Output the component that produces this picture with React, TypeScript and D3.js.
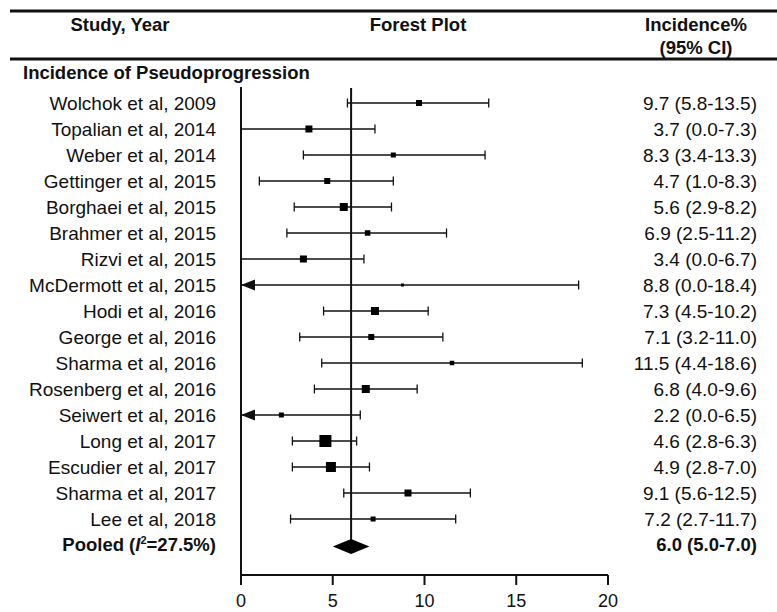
import React from 'react';
import { scaleLinear, scalePoint } from 'd3';

// study rows, top to bottom
const studies = [
  'Wolchok et al, 2009',
  'Topalian et al, 2014',
  'Weber et al, 2014',
  'Gettinger et al, 2015',
  'Borghaei et al, 2015',
  'Brahmer et al, 2015',
  'Rizvi et al, 2015',
  'McDermott et al, 2015',
  'Hodi et al, 2016',
  'George et al, 2016',
  'Sharma et al, 2016',
  'Rosenberg et al, 2016',
  'Seiwert et al, 2016',
  'Long et al, 2017',
  'Escudier et al, 2017',
  'Sharma et al, 2017',
  'Lee et al, 2018',
];
const estimates = [9.7, 3.7, 8.3, 4.7, 5.6, 6.9, 3.4, 8.8, 7.3, 7.1, 11.5, 6.8, 2.2, 4.6, 4.9, 9.1, 7.2];
const lowers = [5.8, 0.0, 3.4, 1.0, 2.9, 2.5, 0.0, 0.0, 4.5, 3.2, 4.4, 4.0, 0.0, 2.8, 2.8, 5.6, 2.7];
const uppers = [13.5, 7.3, 13.3, 8.3, 8.2, 11.2, 6.7, 18.4, 10.2, 11.0, 18.6, 9.6, 6.5, 6.3, 7.0, 12.5, 11.7];
// relative study weight (drives square size)
const weights = [6, 7, 5, 6, 8, 5.5, 7, 3, 8, 6, 4.5, 8, 5, 12, 10, 7, 5];
// lower CI cut at zero -> drawn as arrow
const truncated = [false, false, false, false, false, false, false, true, false, false, false, false, true, false, false, false, false];

const pooled = { est: 6.0, lo: 5.0, hi: 7.0, i2: '27.5%' };
const xTicks = [0, 5, 10, 15, 20];

const W = 777;
const H = 612;
const font = "'Liberation Sans', Arial, sans-serif";

const fmt = (v: number) => v.toFixed(1);

export default function App() {
  const x = scaleLinear().domain([0, 20]).range([241, 608]);
  const rows = [...studies, 'Pooled'];
  const y = scalePoint<string>().domain(rows).range([103, 545]);

  const axisY = 575;
  const ink = '#111';

  return (
    <svg
      width={W}
      height={H}
      style={{ position: 'absolute', left: 0, top: 0, background: '#fff' }}
      fontFamily={font}
    >
      {/* header rules */}
      <line x1={10} x2={W} y1={11} y2={11} stroke={ink} strokeWidth={3} />
      <line x1={10} x2={W} y1={59} y2={59} stroke={ink} strokeWidth={3} />

      <g fontWeight="bold" fontSize={18.5} fill={ink} textAnchor="middle">
        <text x={120} y={30.5}>Study, Year</text>
        <text x={418} y={30.5}>Forest Plot</text>
        <text x={696} y={30.5}>Incidence%</text>
        <text x={696} y={53.5}>(95% CI)</text>
      </g>
      <text x={23} y={78.5} fontWeight="bold" fontSize={18.5} fill={ink}>
        Incidence of Pseudoprogression
      </text>

      {/* axes */}
      <line x1={x(0)} x2={x(0)} y1={87} y2={axisY} stroke={ink} strokeWidth={2} />
      <line x1={x(0)} x2={x(20)} y1={axisY} y2={axisY} stroke={ink} strokeWidth={2} />
      {xTicks.map(t => (
        <g key={t} transform={`translate(${x(t)},0)`}>
          <line y1={axisY} y2={axisY + 10} stroke={ink} strokeWidth={2} />
          <text y={607} textAnchor="middle" fontSize={18} fill={ink}>
            {t}
          </text>
        </g>
      ))}

      {/* pooled reference line */}
      <line x1={x(pooled.est)} x2={x(pooled.est)} y1={88} y2={y('Pooled')!} stroke={ink} strokeWidth={2} />

      {studies.map((s, i) => {
        const cy = y(s)!;
        const sz = weights[i];
        return (
          <g key={s}>
            <text x={216} y={cy} dy="0.35em" textAnchor="end" fontSize={19} fill={ink}>
              {s}
            </text>
            <text x={757} y={cy} dy="0.35em" textAnchor="end" fontSize={19} fill={ink}>
              {`${fmt(estimates[i])} (${fmt(lowers[i])}-${fmt(uppers[i])})`}
            </text>
            <line x1={x(lowers[i])} x2={x(uppers[i])} y1={cy} y2={cy} stroke={ink} strokeWidth={1.3} />
            {truncated[i] ? (
              <path d={`M${x(0)},${cy} L${x(0) + 14},${cy - 5.5} L${x(0) + 14},${cy + 5.5} Z`} fill={ink} />
            ) : (
              <line x1={x(lowers[i])} x2={x(lowers[i])} y1={cy - 4.5} y2={cy + 4.5} stroke={ink} strokeWidth={1.3} />
            )}
            <line x1={x(uppers[i])} x2={x(uppers[i])} y1={cy - 4.5} y2={cy + 4.5} stroke={ink} strokeWidth={1.3} />
            <rect x={x(estimates[i]) - sz / 2} y={cy - sz / 2} width={sz} height={sz} fill="#000" />
          </g>
        );
      })}

      {/* pooled row */}
      {(() => {
        const cy = y('Pooled')!;
        return (
          <g>
            <text x={216} y={cy} dy="0.35em" textAnchor="end" fontSize={18.5} fontWeight="bold" fill={ink}>
              Pooled (<tspan fontStyle="italic">I</tspan>
              <tspan dy={-7} fontSize={11}>2</tspan>
              <tspan dy={7}>={pooled.i2})</tspan>
            </text>
            <text x={757} y={cy} dy="0.35em" textAnchor="end" fontSize={18.5} fontWeight="bold" fill={ink}>
              {`${fmt(pooled.est)} (${fmt(pooled.lo)}-${fmt(pooled.hi)})`}
            </text>
            <path
              d={`M${x(pooled.lo)},${cy + 1.5} L${x(pooled.est)},${cy - 6} L${x(pooled.hi)},${cy + 1.5} L${x(pooled.est)},${cy + 9} Z`}
              fill="#000"
            />
          </g>
        );
      })()}
    </svg>
  );
}
